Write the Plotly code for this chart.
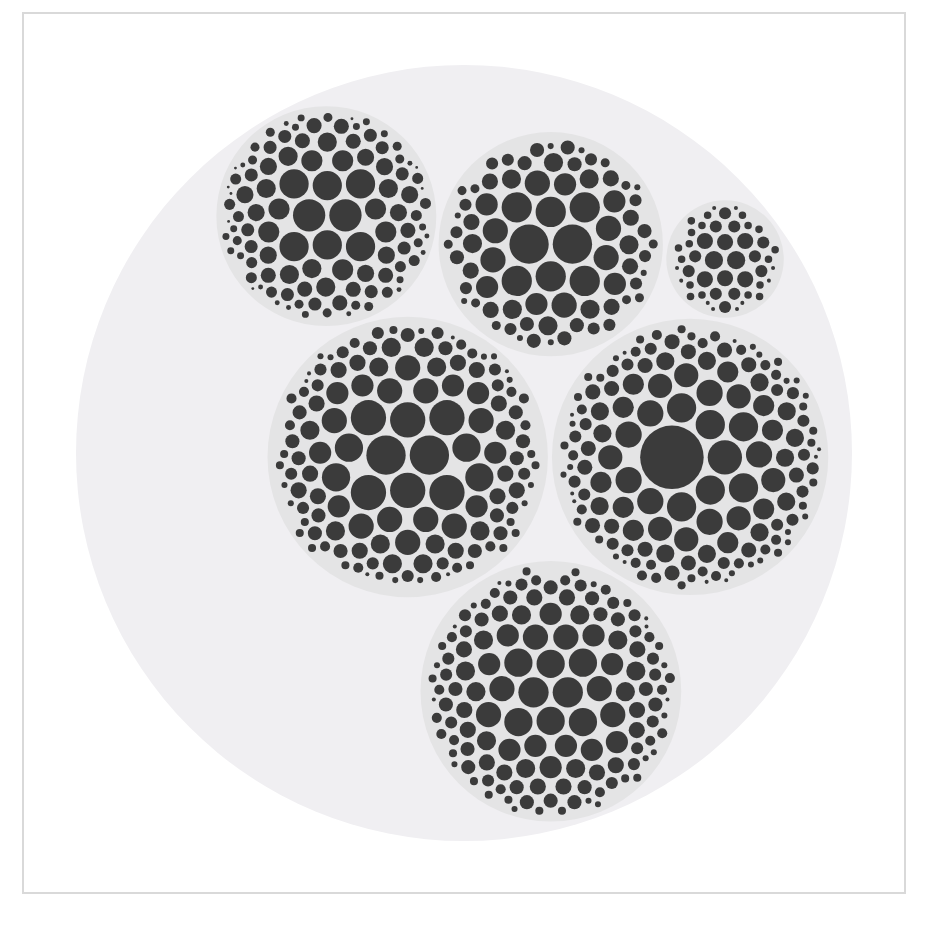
import math
import plotly.graph_objects as go

# ---------------- data (leaf values = area units, with counts per tier) -------------
GROUP_NAMES = ["top-left", "top-middle", "top-right", "middle-left", "middle-right", "bottom"]

G1_VALUES = [256, 210, 110, 90, 72, 56, 42, 30, 20, 12, 6, 2]
G1_COUNTS = [2, 6, 7, 7, 10, 10, 12, 12, 12, 12, 10, 8]

G2_VALUES = [380, 225, 156, 121, 90, 64, 49, 36, 20, 9]
G2_COUNTS = [2, 6, 6, 6, 8, 8, 10, 12, 10, 8]

G3_VALUES = [81, 64, 36, 14, 4]
G3_COUNTS = [2, 6, 11, 18, 10]

G4_VALUES = [380, 306, 196, 156, 121, 90, 64, 49, 36, 25, 16, 9, 4]
G4_COUNTS = [2, 6, 4, 10, 8, 12, 14, 15, 14, 14, 14, 12, 6]

G5_VALUES = [992, 289, 210, 169, 144, 110, 81, 56, 36, 25, 16, 9, 4]
G5_COUNTS = [1, 1, 6, 7, 8, 10, 13, 16, 18, 19, 18, 16, 10]

G6_VALUES = [225, 196, 156, 121, 90, 64, 49, 36, 25, 16, 9, 4]
G6_COUNTS = [2, 6, 6, 11, 11, 15, 17, 17, 17, 14, 12, 6]

GROUP_VALUES = [G1_VALUES, G2_VALUES, G3_VALUES, G4_VALUES, G5_VALUES, G6_VALUES]
GROUP_COUNTS = [G1_COUNTS, G2_COUNTS, G3_COUNTS, G4_COUNTS, G5_COUNTS, G6_COUNTS]

# ---------------- layout / style ----------------
W, H = 942, 928
PACK_CX, PACK_CY, PACK_R = 464, 453, 388
PADDING = 2
ROOT_FILL = "#f0eff2"
GROUP_FILL = "#e4e4e5"
LEAF_FILL = "#3b3b3b"
FRAME_COLOR = "#d9d9d9"


# ---------------- d3-style circle packing ----------------
class Circ:
    __slots__ = ("x", "y", "r", "children", "value")

    def __init__(self, r=0.0, value=0.0):
        self.x = 0.0
        self.y = 0.0
        self.r = r
        self.children = []
        self.value = value


def place(b, a, c):
    dx = b.x - a.x
    dy = b.y - a.y
    d2 = dx * dx + dy * dy
    if d2:
        a2 = (a.r + c.r) ** 2
        b2 = (b.r + c.r) ** 2
        if a2 > b2:
            x = (d2 + b2 - a2) / (2 * d2)
            y = math.sqrt(max(0.0, b2 / d2 - x * x))
            c.x = b.x - x * dx - y * dy
            c.y = b.y - x * dy + y * dx
        else:
            x = (d2 + a2 - b2) / (2 * d2)
            y = math.sqrt(max(0.0, a2 / d2 - x * x))
            c.x = a.x + x * dx - y * dy
            c.y = a.y + x * dy + y * dx
    else:
        c.x = a.x + c.r
        c.y = a.y


def intersects(a, b):
    dr = a.r + b.r - 1e-6
    dx = b.x - a.x
    dy = b.y - a.y
    return dr > 0 and dr * dr > dx * dx + dy * dy


class Node:
    __slots__ = ("c", "next", "prev")

    def __init__(self, c):
        self.c = c
        self.next = None
        self.prev = None


def score(node):
    a = node.c
    b = node.next.c
    ab = a.r + b.r
    dx = (a.x * b.r + b.x * a.r) / ab
    dy = (a.y * b.r + b.y * a.r) / ab
    return dx * dx + dy * dy


def encloses_not(a, b):
    dr = a[2] - b[2]
    dx = b[0] - a[0]
    dy = b[1] - a[1]
    return dr < 0 or dr * dr < dx * dx + dy * dy


def encloses_weak(a, b):
    dr = a[2] - b[2] + max(a[2], b[2], 1) * 1e-9
    dx = b[0] - a[0]
    dy = b[1] - a[1]
    return dr > 0 and dr * dr > dx * dx + dy * dy


def encloses_weak_all(a, B):
    return all(encloses_weak(a, q) for q in B)


def basis2(a, b):
    x1, y1, r1 = a
    x2, y2, r2 = b
    x21, y21, r21 = x2 - x1, y2 - y1, r2 - r1
    l = math.sqrt(x21 * x21 + y21 * y21)
    return ((x1 + x2 + x21 / l * r21) / 2, (y1 + y2 + y21 / l * r21) / 2, (l + r1 + r2) / 2)


def basis3(a, b, c):
    x1, y1, r1 = a
    x2, y2, r2 = b
    x3, y3, r3 = c
    a2 = x1 - x2
    a3 = x1 - x3
    b2 = y1 - y2
    b3 = y1 - y3
    c2 = r2 - r1
    c3 = r3 - r1
    d1 = x1 * x1 + y1 * y1 - r1 * r1
    d2 = d1 - x2 * x2 - y2 * y2 + r2 * r2
    d3 = d1 - x3 * x3 - y3 * y3 + r3 * r3
    ab = a3 * b2 - a2 * b3
    xa = (b2 * d3 - b3 * d2) / (ab * 2) - x1
    xb = (b3 * c2 - b2 * c3) / ab
    ya = (a3 * d2 - a2 * d3) / (ab * 2) - y1
    yb = (a2 * c3 - a3 * c2) / ab
    A = xb * xb + yb * yb - 1
    Bq = 2 * (r1 + xa * xb + ya * yb)
    C = xa * xa + ya * ya - r1 * r1
    if abs(A) > 1e-6:
        r = -((Bq + math.sqrt(max(0.0, Bq * Bq - 4 * A * C))) / (2 * A))
    else:
        r = -(C / Bq)
    return (x1 + xa + xb * r, y1 + ya + yb * r, r)


def enclose_basis(B):
    if len(B) == 1:
        return B[0]
    if len(B) == 2:
        return basis2(B[0], B[1])
    return basis3(B[0], B[1], B[2])


def extend_basis(B, p):
    if encloses_weak_all(p, B):
        return [p]
    for i in range(len(B)):
        if encloses_not(p, B[i]) and encloses_weak_all(basis2(B[i], p), B):
            return [B[i], p]
    for i in range(len(B) - 1):
        for j in range(i + 1, len(B)):
            if (encloses_not(basis2(B[i], B[j]), p)
                    and encloses_not(basis2(B[i], p), B[j])
                    and encloses_not(basis2(B[j], p), B[i])
                    and encloses_weak_all(basis3(B[i], B[j], p), B)):
                return [B[i], B[j], p]
    return [p]


def enclose(circles):
    B = []
    e = None
    i = 0
    n = len(circles)
    while i < n:
        p = circles[i]
        if e is not None and encloses_weak(e, p):
            i += 1
        else:
            B = extend_basis(B, p)
            e = enclose_basis(B)
            i = 0
    return e


def pack_siblings(circles):
    n = len(circles)
    if n == 0:
        return 0.0
    a = circles[0]
    a.x, a.y = 0.0, 0.0
    if n == 1:
        return a.r
    b = circles[1]
    a.x = -b.r
    b.x = a.r
    b.y = 0.0
    if n == 2:
        return a.r + b.r
    c = circles[2]
    place(b, a, c)
    a, b, c = Node(a), Node(b), Node(c)
    a.next = b
    c.prev = b
    b.next = c
    a.prev = c
    c.next = a
    b.prev = a
    i = 3
    while i < n:
        cc = circles[i]
        place(a.c, b.c, cc)
        c = Node(cc)
        j = b.next
        k = a.prev
        sj = b.c.r
        sk = a.c.r
        restart = False
        while True:
            if sj <= sk:
                if intersects(j.c, c.c):
                    b = j
                    a.next = b
                    b.prev = a
                    restart = True
                    break
                sj += j.c.r
                j = j.next
            else:
                if intersects(k.c, c.c):
                    a = k
                    a.next = b
                    b.prev = a
                    restart = True
                    break
                sk += k.c.r
                k = k.prev
            if j is k.next:
                break
        if restart:
            continue
        c.prev = a
        c.next = b
        a.next = c
        b.prev = c
        b = c
        aa = score(a)
        c = c.next
        while c is not b:
            ca = score(c)
            if ca < aa:
                a = c
                aa = ca
            c = c.next
        b = a.next
        i += 1
    chain = [(b.c.x, b.c.y, b.c.r)]
    c = b.next
    while c is not b:
        chain.append((c.c.x, c.c.y, c.c.r))
        c = c.next
    e = enclose(chain)
    for ci in circles:
        ci.x -= e[0]
        ci.y -= e[1]
    return e[2]


def pack_node(node, pad):
    if not node.children:
        return
    for ch in node.children:
        pack_node(ch, pad)
    for ch in node.children:
        ch.r += pad
    e = pack_siblings(node.children)
    for ch in node.children:
        ch.r -= pad
    node.r = e + pad


# build hierarchy (sorted by value, descending, like d3 node.sort)
root = Circ()
for vals, cnts in zip(GROUP_VALUES, GROUP_COUNTS):
    g = Circ()
    for v, n in zip(vals, cnts):
        for _ in range(n):
            g.children.append(Circ(r=math.sqrt(v), value=v))
    g.children.sort(key=lambda c: -c.value)
    g.value = sum(c.value for c in g.children)
    root.children.append(g)
root.children.sort(key=lambda c: -c.value)

pack_node(root, PADDING)
s = PACK_R / root.r

# absolute coordinates
groups_abs = []
leaves_abs = []
for g in root.children:
    gx = PACK_CX + g.x * s
    gy = PACK_CY + g.y * s
    groups_abs.append((gx, gy, g.r * s))
    for lf in g.children:
        leaves_abs.append((gx + lf.x * s, gy + lf.y * s, lf.r * s))


def circle_shape(cx, cy, r, fill):
    return dict(type="circle", xref="x", yref="y", layer="above",
                x0=cx - r, x1=cx + r, y0=cy - r, y1=cy + r,
                fillcolor=fill, line=dict(width=0))


shapes = [dict(type="rect", xref="x", yref="y", x0=23, x1=905, y0=13, y1=893,
               line=dict(color=FRAME_COLOR, width=2), fillcolor="rgba(0,0,0,0)", layer="above")]
shapes.append(circle_shape(PACK_CX, PACK_CY, PACK_R, ROOT_FILL))
for gx, gy, gr in groups_abs:
    shapes.append(circle_shape(gx, gy, gr, GROUP_FILL))
for lx, ly, lr in leaves_abs:
    shapes.append(circle_shape(lx, ly, lr, LEAF_FILL))

fig = go.Figure(go.Scatter(x=[None], y=[None], mode="markers", showlegend=False, hoverinfo="skip"))
fig.update_layout(
    width=W, height=H, margin=dict(l=0, r=0, t=0, b=0),
    paper_bgcolor="white", plot_bgcolor="white",
    xaxis=dict(range=[0, W], visible=False, fixedrange=True),
    yaxis=dict(range=[H, 0], visible=False, fixedrange=True),
    shapes=shapes, showlegend=False,
)
fig.write_html("out.html", config={"displayModeBar": False, "staticPlot": True},
               post_script="document.body.style.margin='0';document.body.style.overflow='hidden';")
